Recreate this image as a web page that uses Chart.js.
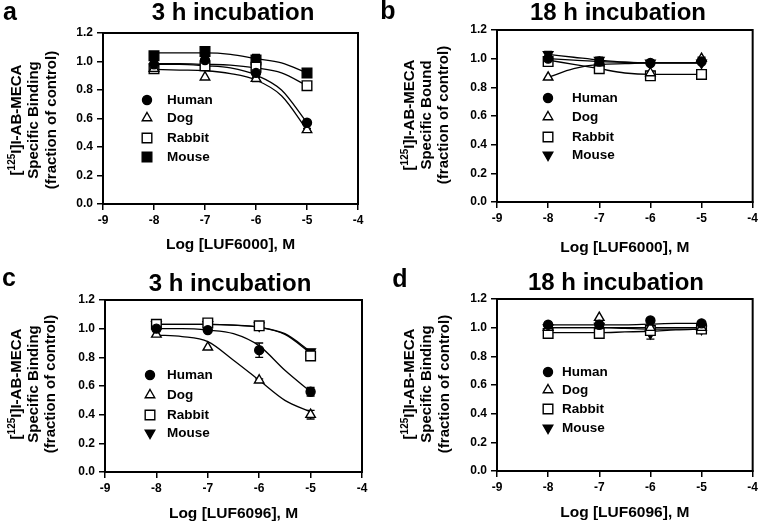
<!DOCTYPE html>
<html><head><meta charset="utf-8">
<script src="https://cdn.jsdelivr.net/npm/chart.js@4"></script>
<style>
html,body{margin:0;padding:0;background:#fff;}
#wrap{position:relative;width:761px;height:522px;overflow:hidden;font-family:"Liberation Sans",Arial,sans-serif;font-weight:bold;color:#000;}
.panel{position:absolute;}
.t{position:absolute;white-space:nowrap;transform:translate(-50%,-50%);line-height:1;}
.head{font-size:24px;}
.let{font-size:25px;}
.yt{position:absolute;white-space:nowrap;transform:translate(-50%,-50%) rotate(-90deg);font-size:15px;line-height:1;}
.yt sup{font-size:10px;vertical-align:6px;line-height:0;}
</style></head>
<body>
<div id="wrap">
  <canvas id="ca" class="panel" width="381" height="280" style="left:0;top:0"></canvas>
  <canvas id="cb" class="panel" width="381" height="280" style="left:380px;top:0"></canvas>
  <canvas id="cc" class="panel" width="381" height="280" style="left:0;top:260px"></canvas>
  <canvas id="cd" class="panel" width="381" height="280" style="left:380px;top:260px"></canvas>

  <div class="t let" style="left:10px;top:11px">a</div>
  <div class="t let" style="left:388px;top:10px">b</div>
  <div class="t let" style="left:9px;top:277px">c</div>
  <div class="t let" style="left:400px;top:278px">d</div>

  <div class="t head" style="left:233px;top:12px">3 h incubation</div>
  <div class="t head" style="left:618px;top:12px">18 h incubation</div>
  <div class="t head" style="left:230px;top:283px">3 h incubation</div>
  <div class="t head" style="left:616px;top:282px">18 h incubation</div>

  <div class="yt" style="left:15px;top:120px">[<sup>125</sup>I]I-AB-MECA</div>
  <div class="yt" style="left:32px;top:120px">Specific Binding</div>
  <div class="yt" style="left:50px;top:120px">(fraction of control)</div>

  <div class="yt" style="left:408px;top:115px">[<sup>125</sup>I]I-AB-MECA</div>
  <div class="yt" style="left:425px;top:115px">Specific Bound</div>
  <div class="yt" style="left:442px;top:115px">(fraction of control)</div>

  <div class="yt" style="left:15px;top:384px">[<sup>125</sup>I]I-AB-MECA</div>
  <div class="yt" style="left:32px;top:384px">Specific Binding</div>
  <div class="yt" style="left:49px;top:384px">(fraction of control)</div>

  <div class="yt" style="left:408px;top:384px">[<sup>125</sup>I]I-AB-MECA</div>
  <div class="yt" style="left:425px;top:384px">Specific Binding</div>
  <div class="yt" style="left:443px;top:384px">(fraction of control)</div>
</div>
<script>
// ---------------- DATA ----------------
const logConc = [-8, -7, -6, -5];                       // measured concentrations (log M)
const curveX  = [-8, -7.5, -7, -6.5, -6, -5.5, -5];     // x positions at which fitted curves were read
const species = ['Human', 'Dog', 'Rabbit', 'Mouse'];
const yTicks  = [0, 0.2, 0.4, 0.6, 0.8, 1.0, 1.2];
const xTicks  = [-9, -8, -7, -6, -5, -4];

// Panel a: LUF6000, 3 h
const aHuman  = [0.98, 1.01, 0.92, 0.57];  const aHumanErr  = [0.01, 0.02, 0.03, 0.01];
const aDog    = [0.95, 0.89, 0.88, 0.52];  const aDogErr    = [0, 0, 0.02, 0.01];
const aRabbit = [0.95, 0.97, 0.96, 0.83];  const aRabbitErr = [0, 0, 0.03, 0];
const aMouse  = [1.04, 1.07, 1.01, 0.92];  const aMouseErr  = [0, 0.01, 0.04, 0];
const aHumanFit  = [0.98, 0.98, 0.97, 0.955, 0.905, 0.80, 0.57];
const aDogFit    = [0.945, 0.94, 0.935, 0.915, 0.87, 0.76, 0.52];
const aRabbitFit = [0.985, 0.985, 0.98, 0.975, 0.955, 0.92, 0.83];
const aMouseFit  = [1.06, 1.06, 1.06, 1.05, 1.02, 0.99, 0.92];

// Panel b: LUF6000, 18 h
const bHuman  = [1.00, 0.98, 0.97, 0.98];  const bHumanErr  = [0.01, 0.01, 0.01, 0.01];
const bDog    = [0.87, 0.97, 0.90, 1.00];  const bDogErr    = [0, 0, 0.01, 0.01];
const bRabbit = [0.98, 0.93, 0.88, 0.89];  const bRabbitErr = [0.01, 0.01, 0.01, 0];
const bMouse  = [1.03, 0.99, 0.97, 0.97];  const bMouseErr  = [0.02, 0.02, 0.01, 0];
const bHumanFit  = [1.00, 0.99, 0.98, 0.975, 0.97, 0.97, 0.97];
const bDogFit    = [0.87, 0.93, 0.96, 0.965, 0.97, 0.97, 0.97];
const bRabbitFit = [0.99, 0.96, 0.93, 0.90, 0.89, 0.89, 0.89];
const bMouseFit  = [1.03, 1.01, 0.99, 0.975, 0.97, 0.97, 0.97];

// Panel c: LUF6096, 3 h
const cHuman  = [1.00, 0.99, 0.85, 0.56];  const cHumanErr  = [0.02, 0.01, 0.05, 0.03];
const cDog    = [0.96, 0.87, 0.64, 0.40];  const cDogErr    = [0, 0, 0.01, 0.03];
const cRabbit = [1.03, 1.04, 1.02, 0.81];  const cRabbitErr = [0, 0, 0.01, 0.01];
const cMouse  = [1.03, 1.03, 1.02, 0.84];  const cMouseErr  = [0, 0, 0.01, 0.01];
const cHumanFit  = [1.00, 1.00, 0.99, 0.965, 0.88, 0.71, 0.56];
const cDogFit    = [0.955, 0.945, 0.91, 0.78, 0.64, 0.50, 0.42];
const cRabbitFit = [1.03, 1.03, 1.03, 1.025, 1.01, 0.96, 0.83];
const cMouseFit  = [1.03, 1.03, 1.03, 1.025, 1.01, 0.965, 0.84];

// Panel d: LUF6096, 18 h
const dHuman  = [1.02, 1.02, 1.05, 1.03];  const dHumanErr  = [0.01, 0.01, 0.01, 0.01];
const dDog    = [1.00, 1.07, 1.00, 1.00];  const dDogErr    = [0, 0, 0, 0];
const dRabbit = [0.96, 0.96, 0.98, 0.99];  const dRabbitErr = [0, 0, 0.01, 0];
const dMouse  = [1.00, 1.01, 0.96, 0.99];  const dMouseErr  = [0, 0, 0.04, 0.01];
const dHumanFit  = [1.02, 1.02, 1.02, 1.02, 1.025, 1.03, 1.03];
const dDogFit    = [1.00, 1.00, 1.00, 1.00, 1.00, 1.00, 1.00];
const dRabbitFit = [0.965, 0.965, 0.965, 0.97, 0.975, 0.985, 0.99];
const dMouseFit  = [1.00, 1.00, 1.00, 0.995, 0.99, 0.99, 0.99];

// ---------------- STYLE / BUILD ----------------
const FONT = "'Liberation Sans', Arial, sans-serif";
Chart.defaults.font.family = FONT;
Chart.defaults.font.weight = 'bold';
Chart.defaults.color = '#000';

const markers = {
  Human:  {pointStyle: 'circle',   radius: 4.5, rotation: 0,   fill: '#000'},
  Dog:    {pointStyle: 'triangle', radius: 5.5, rotation: 0,   fill: '#fff'},
  Rabbit: {pointStyle: 'rect',     radius: 6.8, rotation: 0,   fill: '#fff'},
  MouseSq:{pointStyle: 'rect',     radius: 6.8, rotation: 0,   fill: '#000'},
  MouseTri:{pointStyle: 'triangle',radius: 5.5, rotation: 180, fill: '#000'}
};

function pts(xs, ys) { return xs.map((x, i) => ({x: x, y: ys[i]})); }

function pointDs(name, m, ys, errs) {
  return {label: name, data: pts(logConc, ys), errors: errs, order: 0, showLine: false,
    pointStyle: m.pointStyle, pointRadius: m.radius, pointRotation: m.rotation,
    pointBackgroundColor: m.fill, pointBorderColor: '#000', pointBorderWidth: 1.4, marker: m};
}
function curveDs(ys) {
  return {data: pts(curveX, ys), order: 1, showLine: true, pointRadius: 0, borderColor: '#000',
    borderWidth: 1.3, cubicInterpolationMode: 'monotone', fill: false};
}

const extras = {
  id: 'extras',
  beforeDatasetsDraw(chart) {
    const ctx = chart.ctx, xs = chart.scales.x, ys = chart.scales.y;
    ctx.save(); ctx.strokeStyle = '#000'; ctx.lineWidth = 1.4;
    chart.data.datasets.forEach(ds => {
      if (!ds.errors) return;
      ds.data.forEach((p, i) => {
        const e = ds.errors[i]; if (!e) return;
        const px = xs.getPixelForValue(p.x), y1 = ys.getPixelForValue(p.y + e), y2 = ys.getPixelForValue(p.y - e);
        ctx.beginPath();
        ctx.moveTo(px, y1); ctx.lineTo(px, y2);
        ctx.moveTo(px - 4, y1); ctx.lineTo(px + 4, y1);
        ctx.moveTo(px - 4, y2); ctx.lineTo(px + 4, y2);
        ctx.stroke();
      });
    });
    ctx.restore();
  },
  afterDraw(chart, args, opts) {
    const ctx = chart.ctx, a = chart.chartArea;
    ctx.save();
    ctx.strokeStyle = '#000'; ctx.lineWidth = 2;
    ctx.strokeRect(a.left, a.top, a.right - a.left, a.bottom - a.top);
    // legend
    const L = opts.legend;
    ctx.font = 'bold 13.5px ' + FONT; ctx.textBaseline = 'middle'; ctx.textAlign = 'left';
    chart.data.datasets.filter(d => d.marker).forEach((d, i) => {
      const y = a.top + L.rows[i], mx = a.left + L.mx, tx = a.left + L.tx;
      ctx.fillStyle = d.marker.fill; ctx.strokeStyle = '#000'; ctx.lineWidth = 1.4;
      Chart.helpers.drawPoint(ctx, {pointStyle: d.marker.pointStyle, radius: d.marker.radius,
        rotation: d.marker.rotation, borderWidth: 1.4}, mx, y);
      ctx.fillStyle = '#000';
      ctx.fillText(d.label, tx, y);
    });
    ctx.restore();
  }
};

function makeChart(id, box, xTitle, datasets, legend) {
  const H = 280, W = 381;
  new Chart(document.getElementById(id), {
    type: 'scatter',
    data: {datasets: datasets},
    options: {
      responsive: false, animation: false, devicePixelRatio: 1,
      layout: {padding: {left: box.left - 50, top: box.top, right: W - box.right, bottom: H - box.titleY - 9}},
      plugins: {legend: {display: false}, tooltip: {enabled: false}, extras: {legend: legend}},
      scales: {
        x: {type: 'linear', min: xTicks[0], max: xTicks[xTicks.length - 1],
          afterBuildTicks: s => { s.ticks = xTicks.map(v => ({value: v})); },
          ticks: {color: '#000', font: {size: 12, weight: 'bold'}, padding: 3, maxRotation: 0, autoSkip: false},
          grid: {drawOnChartArea: false, drawTicks: true, tickLength: 6, color: '#000', lineWidth: 1.5},
          border: {display: true, color: '#000', width: 2},
          title: {display: true, text: xTitle, color: '#000', font: {size: 15.5, weight: 'bold'}, padding: 0},
          afterFit: s => { s.height = box.titleY + 9 - box.bottom; }
        },
        y: {min: 0, max: 1.2,
          afterBuildTicks: s => { s.ticks = yTicks.map(v => ({value: v})); },
          ticks: {color: '#000', font: {size: 12, weight: 'bold'}, padding: 4, callback: v => v.toFixed(1)},
          grid: {drawOnChartArea: false, drawTicks: true, tickLength: 6, color: '#000', lineWidth: 1.5},
          border: {display: true, color: '#000', width: 2},
          afterFit: s => { s.width = 50; }
        }
      }
    },
    plugins: [extras]
  });
}

makeChart('ca', {left: 103, right: 358, top: 33, bottom: 204, titleY: 245}, 'Log [LUF6000], M', [
  pointDs('Human', markers.Human, aHuman, aHumanErr),
  pointDs('Dog', markers.Dog, aDog, aDogErr),
  pointDs('Rabbit', markers.Rabbit, aRabbit, aRabbitErr),
  pointDs('Mouse', markers.MouseSq, aMouse, aMouseErr),
  curveDs(aHumanFit), curveDs(aDogFit), curveDs(aRabbitFit), curveDs(aMouseFit)
], {mx: 44, tx: 64, rows: [67, 85, 105, 124]});

makeChart('cb', {left: 117, right: 377, top: 30, bottom: 202, titleY: 248}, 'Log [LUF6000], M', [
  pointDs('Human', markers.Human, bHuman, bHumanErr),
  pointDs('Dog', markers.Dog, bDog, bDogErr),
  pointDs('Rabbit', markers.Rabbit, bRabbit, bRabbitErr),
  pointDs('Mouse', markers.MouseTri, bMouse, bMouseErr),
  curveDs(bHumanFit), curveDs(bDogFit), curveDs(bRabbitFit), curveDs(bMouseFit)
], {mx: 51, tx: 75, rows: [68, 87, 107, 125]});

makeChart('cc', {left: 105, right: 362, top: 40, bottom: 212, titleY: 254}, 'Log [LUF6096], M', [
  pointDs('Human', markers.Human, cHuman, cHumanErr),
  pointDs('Dog', markers.Dog, cDog, cDogErr),
  pointDs('Rabbit', markers.Rabbit, cRabbit, cRabbitErr),
  pointDs('Mouse', markers.MouseTri, cMouse, cMouseErr),
  curveDs(cHumanFit), curveDs(cDogFit), curveDs(cRabbitFit), curveDs(cMouseFit)
], {mx: 45, tx: 62, rows: [75, 95, 115, 133]});

makeChart('cd', {left: 117, right: 378, top: 39, bottom: 211, titleY: 253}, 'Log [LUF6096], M', [
  pointDs('Human', markers.Human, dHuman, dHumanErr),
  pointDs('Dog', markers.Dog, dDog, dDogErr),
  pointDs('Rabbit', markers.Rabbit, dRabbit, dRabbitErr),
  pointDs('Mouse', markers.MouseTri, dMouse, dMouseErr),
  curveDs(dHumanFit), curveDs(dDogFit), curveDs(dRabbitFit), curveDs(dMouseFit)
], {mx: 51, tx: 65, rows: [73, 91, 110, 129]});
</script>
</body></html>
